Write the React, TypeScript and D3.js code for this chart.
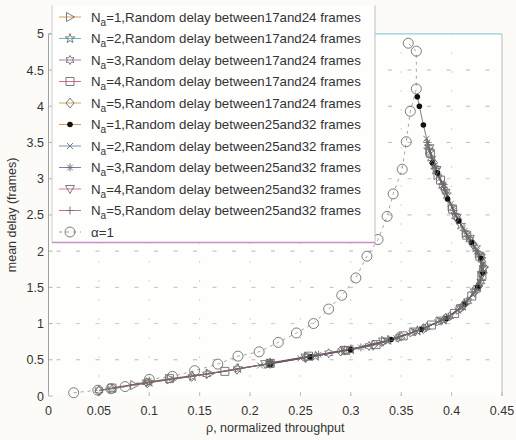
import React from "react";
import * as d3 from "d3";

// ---------- data ----------
const xTicks = [0, 0.05, 0.1, 0.15, 0.2, 0.25, 0.3, 0.35, 0.4, 0.45];
const xTickLabels = ["0", "0.05", "0.1", "0.15", "0.2", "0.25", "0.3", "0.35", "0.4", "0.45"];
const yTicks = [0, 0.5, 1, 1.5, 2, 2.5, 3, 3.5, 4, 4.5, 5];
const yTickLabels = ["0", "0.5", "1", "1.5", "2", "2.5", "3", "3.5", "4", "4.5", "5"];

const seriesNa = ["1", "2", "3", "4", "5", "1", "2", "3", "4", "5"];
const seriesDelay = [
  "17and24", "17and24", "17and24", "17and24", "17and24",
  "25and32", "25and32", "25and32", "25and32", "25and32",
];
const seriesMarkers = ["triRight", "pentagram", "hexagram", "square", "diamond", "dot", "x", "asterisk", "triDown", "plus"];

const s1 = [[0.085,0.15],[0.121,0.23],[0.16,0.31],[0.22,0.45],[0.258,0.54],[0.297,0.63],[0.334,0.76],[0.362,0.88],[0.388,1.03],[0.408,1.19],[0.424,1.44],[0.431,1.70],[0.427,1.97],[0.414,2.25],[0.400,2.62],[0.386,3.05],[0.378,3.38]];
const s2 = [[0.063,0.10],[0.10,0.19],[0.143,0.27],[0.188,0.38],[0.22,0.45],[0.265,0.55],[0.30,0.64],[0.337,0.77],[0.366,0.90],[0.392,1.05],[0.411,1.24],[0.426,1.50],[0.432,1.76],[0.424,2.05],[0.409,2.36],[0.395,2.78],[0.384,3.12],[0.377,3.40]];
const s3 = [[0.05,0.08],[0.097,0.19],[0.157,0.30],[0.22,0.45],[0.278,0.59],[0.318,0.69],[0.35,0.82],[0.375,0.95],[0.398,1.10],[0.416,1.31],[0.429,1.58],[0.430,1.88],[0.418,2.16],[0.404,2.48],[0.391,2.90],[0.380,3.28]];
const s4 = [[0.063,0.11],[0.12,0.24],[0.175,0.34],[0.22,0.45],[0.258,0.55],[0.295,0.63],[0.325,0.71],[0.352,0.83],[0.380,0.98],[0.403,1.14],[0.420,1.38],[0.430,1.65],[0.428,1.93],[0.415,2.22],[0.401,2.58],[0.389,2.98],[0.379,3.35]];
const s5 = [[0.05,0.07],[0.098,0.18],[0.142,0.27],[0.187,0.37],[0.22,0.45],[0.255,0.53],[0.29,0.62],[0.322,0.70],[0.347,0.81],[0.372,0.93],[0.394,1.07],[0.412,1.26],[0.427,1.52],[0.432,1.78],[0.421,2.10],[0.406,2.44],[0.393,2.85],[0.382,3.22]];
const s6 = [[0.22,0.44],[0.26,0.54],[0.30,0.64],[0.34,0.78],[0.37,0.92],[0.395,1.07],[0.413,1.27],[0.426,1.50],[0.431,1.70],[0.429,1.90],[0.420,2.12],[0.407,2.42],[0.396,2.72],[0.386,3.08],[0.381,3.22],[0.372,3.74],[0.368,4.00],[0.366,4.13]];
const s7 = [[0.21,0.42],[0.25,0.52],[0.29,0.62],[0.328,0.72],[0.36,0.87],[0.386,1.02],[0.406,1.18],[0.421,1.40],[0.429,1.62],[0.431,1.82],[0.423,2.06],[0.411,2.32],[0.399,2.65],[0.388,3.00],[0.381,3.25],[0.375,3.55]];
const s8 = [[0.22,0.46],[0.268,0.57],[0.31,0.67],[0.345,0.80],[0.374,0.94],[0.397,1.09],[0.415,1.30],[0.428,1.56],[0.431,1.80],[0.425,2.00],[0.413,2.28],[0.402,2.56],[0.392,2.92],[0.383,3.18],[0.376,3.50]];
const s9 = [[0.215,0.44],[0.255,0.53],[0.294,0.63],[0.332,0.75],[0.364,0.89],[0.39,1.04],[0.409,1.21],[0.423,1.43],[0.430,1.67],[0.429,1.91],[0.418,2.17],[0.405,2.46],[0.394,2.80],[0.385,3.12],[0.378,3.42]];
const s10 = [[0.22,0.45],[0.262,0.55],[0.302,0.65],[0.338,0.77],[0.368,0.91],[0.393,1.06],[0.411,1.24],[0.425,1.47],[0.431,1.73],[0.427,1.96],[0.416,2.20],[0.403,2.52],[0.392,2.88],[0.384,3.16],[0.377,3.46]];
const alphaOne = [[0.025,0.045],[0.049,0.08],[0.062,0.10],[0.076,0.13],[0.100,0.23],[0.123,0.27],[0.145,0.35],[0.168,0.44],[0.188,0.55],[0.209,0.61],[0.228,0.74],[0.246,0.87],[0.263,1.00],[0.278,1.20],[0.291,1.39],[0.305,1.63],[0.316,1.93],[0.327,2.16],[0.336,2.48],[0.342,2.79],[0.351,3.13],[0.355,3.51],[0.359,3.93],[0.365,4.24],[0.365,4.76],[0.357,4.87]];

const seriesData = [s1, s2, s3, s4, s5, s6, s7, s8, s9, s10];

// ---------- styles ----------
const lineColors = ["#d4a05c", "#5fbcc8", "#c070c0", "#d46a9a", "#d8a45a", "#d89850", "#7f95b5", "#9a6cc0", "#d07aa0", "#c86aa8"];
const plotLineColors = ["#8a6a48", "#4f7f88", "#7a507a", "#8a5068", "#8a6c48", "#6a5040", "#56657a", "#6a507a", "#8a5a70", "#7a4a68"];
const FONT = "'Liberation Sans', Arial, Helvetica, sans-serif";
const TEXT = "#333";
const MARK = "#6e6e6e";

const W = 516, H = 440;
const X0 = 48.5, X1 = 502, Y0 = 396, Y1 = 33.8;

function starPath(n: number, ro: number, ri: number, rot = -Math.PI / 2) {
  const pts: string[] = [];
  for (let i = 0; i < 2 * n; i++) {
    const r = i % 2 === 0 ? ro : ri;
    const a = rot + (i * Math.PI) / n;
    pts.push(`${(r * Math.cos(a)).toFixed(2)},${(r * Math.sin(a)).toFixed(2)}`);
  }
  return "M" + pts.join("L") + "Z";
}

function Marker({ type, x, y }: { type: string; x: number; y: number }) {
  const t = `translate(${x},${y})`;
  const common = { transform: t, fill: "none", stroke: MARK, strokeWidth: 0.9 };
  switch (type) {
    case "triRight":
      return <path {...common} d="M-3.5,-4.5L4.5,0L-3.5,4.5Z" />;
    case "triDown":
      return <path {...common} d="M-4.5,-3.5L4.5,-3.5L0,4.5Z" />;
    case "pentagram":
      return <path {...common} d={starPath(5, 5, 2)} />;
    case "hexagram":
      return <path {...common} d={starPath(6, 4.5, 2.6)} />;
    case "square":
      return <path {...common} d="M-4,-4L4,-4L4,4L-4,4Z" />;
    case "diamond":
      return <path {...common} d="M0,-5L4,0L0,5L-4,0Z" />;
    case "dot":
      return <circle transform={t} r={2.8} fill="#111" stroke="none" />;
    case "x":
      return <path {...common} d="M-3,-3L3,3M-3,3L3,-3" />;
    case "asterisk":
      return <path {...common} d="M-4,0L4,0M0,-4L0,4M-2.8,-2.8L2.8,2.8M-2.8,2.8L2.8,-2.8" />;
    case "plus":
      return <path {...common} d="M-4,0L4,0M0,-4L0,4" />;
    case "circle":
      return <circle {...common} r={5} />;
  }
  return null;
}

export default function App() {
  const x = d3.scaleLinear().domain([0, 0.45]).range([X0, X1]);
  const y = d3.scaleLinear().domain([0, 5]).range([Y0, Y1]);
  const line = d3
    .line<number[]>()
    .x((d) => x(d[0]))
    .y((d) => y(d[1]));

  const legX = 52, legY = 5.5, legW = 323, legH = 237;
  const rowY0 = 17, rowDy = 21.5;

  return (
    <svg
      width={W}
      height={H}
      style={{ position: "absolute", left: 0, top: 0, background: "#fcfbf7" }}
      fontFamily={FONT}
    >
      <defs>
        <linearGradient id="botAxis" x1="0" x2="1" y1="0" y2="0">
          <stop offset="0" stopColor="#a58ad0" />
          <stop offset="0.5" stopColor="#b6a6da" />
          <stop offset="1" stopColor="#8fd4e6" />
        </linearGradient>
        <linearGradient id="legTop" x1="0" x2="1" y1="0" y2="0">
          <stop offset="0" stopColor="#d9a2b8" />
          <stop offset="1" stopColor="#c9a0d8" />
        </linearGradient>
      </defs>
      <rect x={0} y={0} width={W} height={H} fill="#fcfbf7" />
      <rect x={X0} y={Y1} width={X1 - X0} height={Y0 - Y1} fill="#fefefc" />

      {/* grid */}
      {xTicks.slice(1, -1).map((v, i) => (
        <line key={"gx" + i} x1={x(v)} x2={x(v)} y1={Y0} y2={Y1} stroke="#c8c8c8" strokeWidth={0.8} strokeDasharray="2,17" />
      ))}
      {yTicks.slice(1, -1).map((v, i) => (
        <line key={"gy" + i} x1={X0} x2={X1} y1={y(v)} y2={y(v)} stroke={["#d9a0a8", "#a8d0d8", "#d8b090", "#c0a0d0"][i % 4]} strokeWidth={0.9} strokeDasharray="4,15.5" strokeDashoffset={-8} />
      ))}

      {/* axes frame */}
      <line x1={X0} x2={X0} y1={Y0} y2={Y1} stroke="#a0a0a0" strokeWidth={1} />
      <line x1={X1} x2={X1} y1={Y0} y2={Y1} stroke="#b8b8b8" strokeWidth={1} />
      <line x1={X0} x2={X1} y1={Y1} y2={Y1} stroke="#8fcfe0" strokeWidth={1.2} />
      <line x1={X0} x2={X1} y1={Y0} y2={Y0} stroke="url(#botAxis)" strokeWidth={1.6} />
      {yTicks.map((v, i) => (
        <line key={"ty" + i} x1={X0} x2={X0 + 4} y1={y(v)} y2={y(v)} stroke="#a0a0a0" strokeWidth={0.8} />
      ))}
      {xTicks.map((v, i) => (
        <line key={"tx" + i} x1={x(v)} x2={x(v)} y1={Y0} y2={Y0 - 4} stroke="#b0b0b0" strokeWidth={0.8} />
      ))}

      {/* tick labels */}
      {xTicks.map((v, i) => (
        <text key={"lx" + i} x={x(v)} y={414.5} fontSize={12.5} fill={TEXT} textAnchor="middle">
          {xTickLabels[i]}
        </text>
      ))}
      {yTicks.map((v, i) => (
        <text key={"ly" + i} x={44} y={y(v) + 4.5} fontSize={12.5} fill={TEXT} textAnchor="end">
          {yTickLabels[i]}
        </text>
      ))}
      <text x={(X0 + X1) / 2} y={432} fontSize={12.5} fill={TEXT} textAnchor="middle">
        ρ, normalized throughput
      </text>
      <text transform={`translate(16,${(Y0 + Y1) / 2}) rotate(-90)`} fontSize={12.5} fill={TEXT} textAnchor="middle">
        mean delay (frames)
      </text>

      {/* alpha = 1 */}
      <path d={line(alphaOne as number[][]) || ""} fill="none" stroke="#9a9a9a" strokeWidth={0.9} strokeDasharray="3,4" />
      {alphaOne.map((d, i) => (
        <Marker key={"a" + i} type="circle" x={x(d[0])} y={y(d[1])} />
      ))}

      {/* series */}
      {seriesData.map((s, si) => (
        <path key={"l" + si} d={line(s as number[][]) || ""} fill="none" stroke={plotLineColors[si]} strokeWidth={0.9} strokeOpacity={0.85} />
      ))}
      {seriesData.map((s, si) =>
        s.map((d, i) => <Marker key={`m${si}-${i}`} type={seriesMarkers[si]} x={x(d[0])} y={y(d[1])} />)
      )}

      {/* legend */}
      <rect x={legX} y={legY} width={legW} height={legH} fill="#fefefd" stroke="none" />
      <line x1={legX} x2={legX + legW} y1={legY} y2={legY} stroke="url(#legTop)" strokeWidth={1.2} />
      <line x1={legX} x2={legX + legW} y1={legY + legH} y2={legY + legH} stroke="#c890c8" strokeWidth={1.4} />
      <line x1={legX} x2={legX} y1={legY} y2={legY + legH} stroke="#c8c8c8" strokeWidth={0.9} />
      <line x1={legX + legW} x2={legX + legW} y1={legY} y2={legY + legH} stroke="#b8b8b8" strokeWidth={0.9} />
      {seriesNa.map((na, i) => {
        const ry = rowY0 + i * rowDy;
        return (
          <g key={"leg" + i}>
            <line x1={59} x2={81} y1={ry} y2={ry} stroke={lineColors[i]} strokeWidth={1} />
            <Marker type={seriesMarkers[i]} x={70} y={ry} />
            <text x={91} y={ry + 4.5} fontSize={13.3} fill={TEXT}>
              N
              <tspan fontSize={10} dy={4}>a</tspan>
              <tspan dy={-4}>{`=${na},Random delay between${seriesDelay[i]} frames`}</tspan>
            </text>
          </g>
        );
      })}
      {(() => {
        const ry = rowY0 + 10 * rowDy;
        return (
          <g>
            <line x1={59} x2={81} y1={ry} y2={ry} stroke="#9a9a9a" strokeWidth={1} strokeDasharray="3,4" />
            <Marker type="circle" x={70} y={ry} />
            <text x={91} y={ry + 4.5} fontSize={13.3} fill={TEXT}>
              α=1
            </text>
          </g>
        );
      })()}
    </svg>
  );
}
